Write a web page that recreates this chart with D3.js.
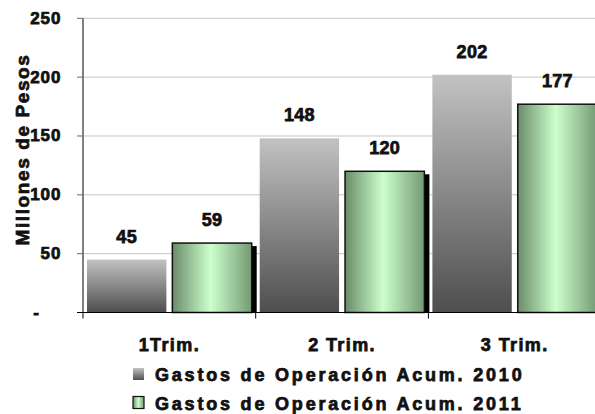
<!DOCTYPE html>
<html>
<head>
<meta charset="utf-8">
<script src="https://cdn.jsdelivr.net/npm/d3@7"></script>
<style>
  html, body { margin: 0; padding: 0; background: #fff; }
  svg { display: block; }
  svg text {
    font-family: "Liberation Sans", Arial, sans-serif;
    font-weight: 700;
    fill: #111;
    stroke: #111;
    stroke-width: 0.75px;
    paint-order: stroke;
  }
</style>
</head>
<body>
<svg id="chart" width="595" height="414"></svg>
<script>
const categories = ["1Trim.", "2 Trim.", "3 Trim."];
const seriesNames = ["Gastos de Operación Acum. 2010", "Gastos de Operación Acum. 2011"];
const values2010 = [45, 148, 202];
const values2011 = [59, 120, 177];
const yTicks = [0, 50, 100, 150, 200, 250];

document.addEventListener("DOMContentLoaded", () => {
  const svg = d3.select("#chart");
  const plotLeft = 83;
  const plotTop = 18.3;
  const plotBottom = 312.5;
  const catWidth = 172.7;

  const rows = categories.map((name, i) => ({
    name,
    values: [values2010[i], values2011[i]],
  }));

  const y = d3.scaleLinear().domain([0, 250]).range([plotBottom, plotTop]);
  const x0 = d3
    .scaleBand()
    .domain(categories)
    .range([plotLeft, plotLeft + catWidth * categories.length])
    .padding(0);
  const x1 = d3
    .scaleBand()
    .domain(seriesNames)
    .range([4, catWidth - 4])
    .paddingInner(0.07)
    .paddingOuter(0);

  const defs = svg.append("defs");

  const grayGrad = defs
    .append("linearGradient")
    .attr("id", "grad-gray")
    .attr("x1", 0)
    .attr("y1", 0)
    .attr("x2", 0)
    .attr("y2", 1);
  grayGrad.append("stop").attr("offset", "0%").attr("stop-color", "#c2c2c2");
  grayGrad.append("stop").attr("offset", "100%").attr("stop-color", "#4e4e4e");

  const greenGrad = defs
    .append("linearGradient")
    .attr("id", "grad-green")
    .attr("x1", 0)
    .attr("y1", 0)
    .attr("x2", 1)
    .attr("y2", 0);
  greenGrad.append("stop").attr("offset", "0%").attr("stop-color", "#6a8c6a");
  greenGrad.append("stop").attr("offset", "48%").attr("stop-color", "#ccffcc");
  greenGrad.append("stop").attr("offset", "100%").attr("stop-color", "#749a74");

  // gridlines
  svg
    .append("g")
    .selectAll("line")
    .data(yTicks.filter((t) => t > 0))
    .join("line")
    .attr("x1", plotLeft)
    .attr("x2", 600)
    .attr("y1", (d) => y(d))
    .attr("y2", (d) => y(d))
    .attr("stroke", "#c4c4c4")
    .attr("stroke-width", 1);

  // bars
  const groups = svg
    .append("g")
    .selectAll("g")
    .data(rows)
    .join("g")
    .attr("transform", (d) => `translate(${x0(d.name)},0)`);

  groups.each(function eachGroup(row) {
    const g = d3.select(this);
    const v0 = row.values[0];
    const v1 = row.values[1];
    const gx = x1(seriesNames[1]);
    const bw = x1.bandwidth();

    g.append("rect")
      .attr("x", x1(seriesNames[0]))
      .attr("y", y(v0))
      .attr("width", bw)
      .attr("height", y(0) - y(v0))
      .attr("fill", "url(#grad-gray)");

    // shadow of the 2011 bar
    g.append("rect")
      .attr("x", gx + 5)
      .attr("y", y(v1) + 3)
      .attr("width", bw)
      .attr("height", y(0) - y(v1) - 3)
      .attr("fill", "#000");

    g.append("rect")
      .attr("x", gx)
      .attr("y", y(v1))
      .attr("width", bw)
      .attr("height", y(0) - y(v1))
      .attr("fill", "url(#grad-green)")
      .attr("stroke", "#111")
      .attr("stroke-width", 1.5);

    row.values.forEach((v, i) => {
      g.append("text")
        .attr("x", x1(seriesNames[i]) + bw / 2)
        .attr("y", y(v) - 17)
        .attr("text-anchor", "middle")
        .attr("font-size", 18)
        .attr("letter-spacing", 0.3)
        .text(v);
    });
  });

  // left axis
  svg
    .append("line")
    .attr("x1", plotLeft)
    .attr("x2", plotLeft)
    .attr("y1", plotTop)
    .attr("y2", plotBottom + 6)
    .attr("stroke", "#808080")
    .attr("stroke-width", 2);

  svg
    .append("g")
    .selectAll("line")
    .data(yTicks.filter((t) => t > 0))
    .join("line")
    .attr("x1", plotLeft - 6)
    .attr("x2", plotLeft)
    .attr("y1", (d) => y(d))
    .attr("y2", (d) => y(d))
    .attr("stroke", "#666");

  svg
    .append("g")
    .selectAll("text")
    .data(yTicks)
    .join("text")
    .attr("x", (d) => (d === 0 ? 40 : 61.5))
    .attr("y", (d) => y(d) + 5.5)
    .attr("text-anchor", "end")
    .attr("font-size", 17)
    .attr("letter-spacing", 1)
    .text((d) => (d === 0 ? "-" : d));

  // bottom axis
  svg
    .append("line")
    .attr("x1", plotLeft - 6)
    .attr("x2", 600)
    .attr("y1", y(0))
    .attr("y2", y(0))
    .attr("stroke", "#000")
    .attr("stroke-width", 1);

  svg
    .append("g")
    .selectAll("line")
    .data(categories.slice(1))
    .join("line")
    .attr("x1", (d) => x0(d))
    .attr("x2", (d) => x0(d))
    .attr("y1", y(0))
    .attr("y2", y(0) + 6)
    .attr("stroke", "#000");

  svg
    .append("g")
    .selectAll("text")
    .data(categories)
    .join("text")
    .attr("x", (d) => x0(d) + x0.bandwidth() / 2)
    .attr("y", 351)
    .attr("text-anchor", "middle")
    .attr("font-size", 18)
    .attr("letter-spacing", 1.4)
    .text((d) => d);

  // y axis title
  svg
    .append("text")
    .attr("transform", "translate(28.5,149.5) rotate(-90)")
    .attr("text-anchor", "middle")
    .attr("font-size", 19)
    .attr("letter-spacing", 1.6)
    .text("Millones de Pesos");

  // legend
  const legend = svg
    .append("g")
    .selectAll("g")
    .data(seriesNames)
    .join("g")
    .attr("transform", (d, i) => `translate(133,${368 + i * 28.5})`);

  legend
    .append("rect")
    .attr("width", 11)
    .attr("height", 12)
    .attr("fill", (d, i) => (i === 0 ? "url(#grad-gray)" : "url(#grad-green)"))
    .attr("stroke", (d, i) => (i === 0 ? "none" : "#111"))
    .attr("stroke-width", 1.2);

  legend
    .append("text")
    .attr("x", 22)
    .attr("y", 13)
    .attr("font-size", 18)
    .attr("letter-spacing", 2.8)
    .text((d) => d);
});
</script>
</body>
</html>
